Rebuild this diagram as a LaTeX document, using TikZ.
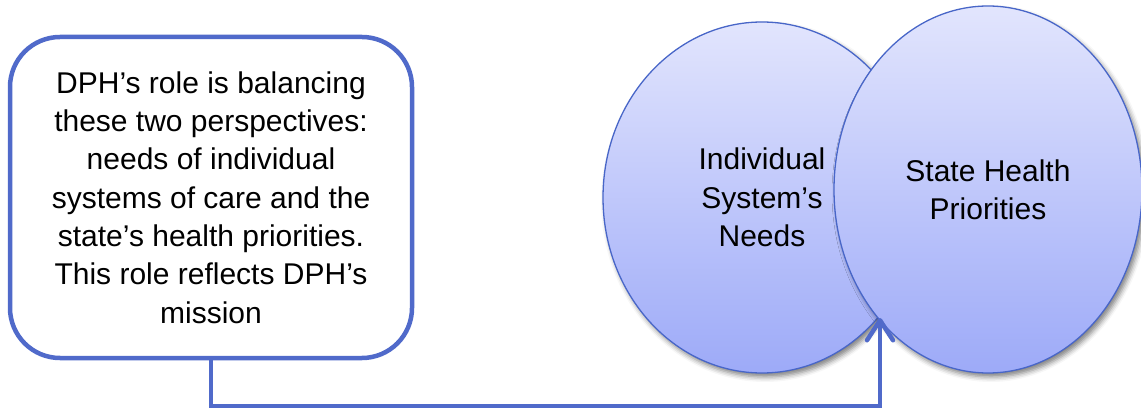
\documentclass[tikz,border=0pt]{standalone}
\usepackage{fontspec}
\setmainfont{Liberation Sans}
\usetikzlibrary{shapes.geometric,shadows.blur,arrows.meta}
\definecolor{edgeblue}{RGB}{72,102,200}
\definecolor{boxblue}{RGB}{80,106,202}
\definecolor{filltop}{RGB}{226,229,253}
\definecolor{fillbot}{RGB}{157,170,248}
\begin{document}
\begin{tikzpicture}[x=1pt,y=1pt,
  lbl/.style={font=\fontsize{30}{38.3}\selectfont, align=center, text=black},
  bubble/.style={ellipse, draw=edgeblue, line width=1.3pt,
    top color=filltop, bottom color=fillbot, inner sep=0pt, lbl,
    blur shadow={shadow xshift=3pt, shadow yshift=-4pt,
      shadow blur radius=5pt, shadow opacity=50}},
  rolebox/.style={draw=boxblue, line width=4.5pt, rounded corners=50pt,
    fill=white, minimum width=402pt, minimum height=321pt, inner sep=0pt, lbl},
  link/.style={draw=boxblue, line width=4.5pt,
    -{Straight Barb[length=20pt,width=26pt,line cap=round,line join=round]}}
]
\useasboundingbox (0,0) rectangle (1141,410);

% the two overlapping perspectives
\node[bubble, minimum width=318pt, minimum height=351pt] (indiv) at (762,212.5)
  {Individual\\System’s\\Needs};
\node[bubble, minimum width=308pt, minimum height=367pt] (state) at (988,220.5)
  {State Health\\Priorities};

% explanatory box
\node[rolebox] (role) at (211,212.5)
  {DPH’s role is balancing\\these two perspectives:\\needs of individual\\systems of care and the\\state’s health priorities.\\This role reflects DPH’s\\mission};

% connector from the box to the overlap of the ellipses
\coordinate (meet) at (880,92);
\coordinate (low) at (880,4);
\draw[link] (role.south) |- (low) -- (meet);
\end{tikzpicture}
\end{document}
